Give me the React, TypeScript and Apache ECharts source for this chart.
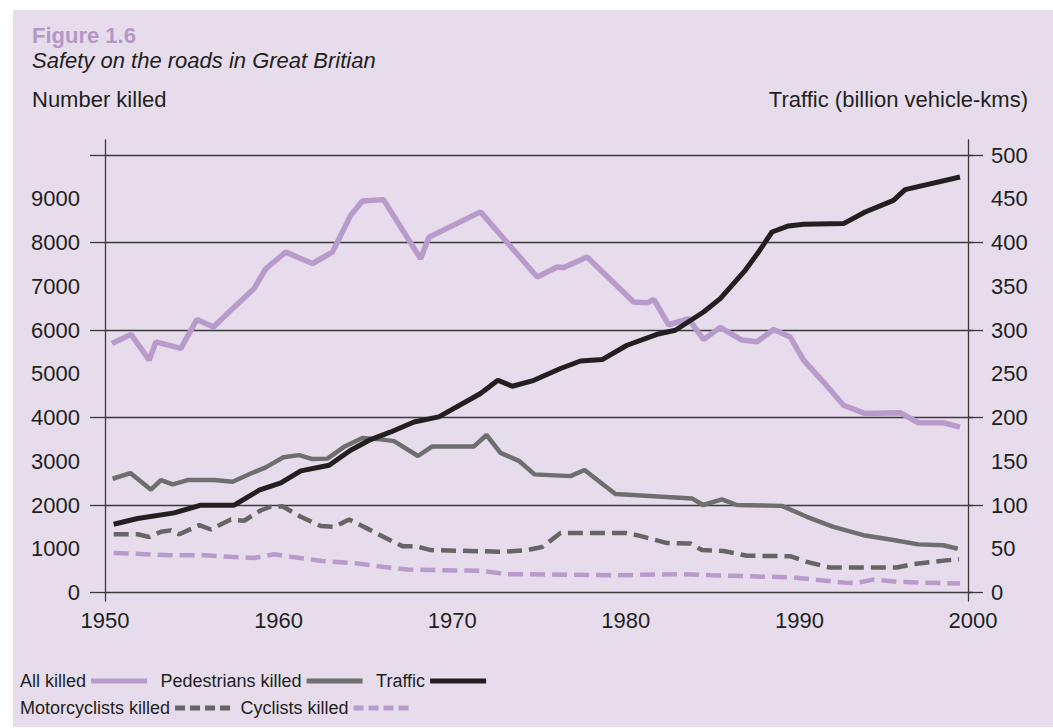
import React, { useEffect, useRef } from "react";
import * as echarts from "echarts";

// ---------- data ----------
const xTickYears = [1950, 1960, 1970, 1980, 1990, 2000];

const allKilledYears = [1950.4, 1951.5, 1952.55, 1952.93, 1954.37, 1955.29, 1956.25, 1957.25, 1958.59, 1959.26, 1960.41, 1961.95, 1963.1, 1964.15, 1964.83, 1966.04, 1968.18, 1968.66, 1971.63, 1974.9, 1976.05, 1976.43, 1977.77, 1980.45, 1981.23, 1981.61, 1982.47, 1983.62, 1984.48, 1985.44, 1986.69, 1987.55, 1988.51, 1989.47, 1990.24, 1991.39, 1992.54, 1993.79, 1995.8, 1996.85, 1998.29, 1999.25];
const allKilled = [5690, 5900, 5310, 5730, 5580, 6240, 6070, 6450, 6950, 7400, 7780, 7520, 7780, 8620, 8950, 8980, 7630, 8120, 8700, 7210, 7440, 7430, 7670, 6640, 6620, 6700, 6120, 6260, 5780, 6060, 5770, 5730, 6010, 5840, 5310, 4810, 4280, 4090, 4110, 3880, 3880, 3780];

const pedestriansYears = [1950.44, 1951.46, 1952.65, 1953.22, 1953.9, 1954.76, 1956.29, 1957.35, 1958.4, 1959.26, 1960.28, 1961.18, 1961.95, 1962.81, 1963.77, 1964.83, 1965.88, 1966.65, 1968.03, 1968.85, 1971.25, 1971.98, 1972.78, 1973.84, 1974.74, 1976.81, 1977.62, 1979.4, 1983.81, 1984.45, 1985.54, 1986.4, 1988.99, 1990.43, 1991.96, 1993.69, 1995.41, 1996.85, 1998.29, 1999.12];
const pedestrians = [2600, 2730, 2350, 2570, 2470, 2570, 2570, 2530, 2720, 2860, 3090, 3140, 3050, 3060, 3330, 3530, 3500, 3460, 3120, 3340, 3340, 3600, 3190, 3010, 2700, 2660, 2800, 2250, 2150, 2000, 2130, 2000, 1980, 1730, 1500, 1310, 1200, 1100, 1080, 1000];

const trafficYears = [1950.5, 1951.88, 1953.99, 1955.52, 1957.44, 1958.88, 1960.13, 1961.28, 1962.91, 1964.15, 1965.3, 1966.46, 1967.8, 1969.23, 1971.63, 1972.63, 1973.46, 1974.61, 1976.24, 1977.39, 1978.64, 1980.07, 1981.8, 1982.85, 1984.48, 1985.44, 1986.88, 1987.65, 1988.42, 1989.37, 1990.24, 1992.54, 1993.79, 1995.42, 1996.09, 1999.25];
const traffic = [78, 84.6, 91, 99.8, 99.8, 116.9, 125.2, 139, 145.5, 162.6, 174.8, 183.5, 194.9, 200.7, 227.4, 242.6, 235.7, 241.8, 256, 264.6, 266.2, 282.6, 295.1, 299.7, 320.6, 335.9, 368.2, 389.2, 412, 418.9, 420.8, 421.6, 434.9, 448.2, 460.5, 474.9];

const motorcyclistsYears = [1950.5, 1951.88, 1952.55, 1953.22, 1953.8, 1954.28, 1955.43, 1956.1, 1957.25, 1958.01, 1958.98, 1959.55, 1960.22, 1961.28, 1962.43, 1963.19, 1964.06, 1965.12, 1966.46, 1967.13, 1967.89, 1968.76, 1972.97, 1974.32, 1975.18, 1976.24, 1979.98, 1980.65, 1982.38, 1983.72, 1984.39, 1985.63, 1986.98, 1989.47, 1990.43, 1991.77, 1995.61, 1996.57, 1998.58, 1999.2];
const motorcyclists = [1330, 1330, 1270, 1390, 1420, 1330, 1540, 1440, 1670, 1640, 1880, 1960, 1970, 1730, 1520, 1500, 1670, 1460, 1190, 1060, 1060, 970, 930, 970, 1040, 1360, 1360, 1310, 1130, 1120, 970, 950, 840, 830, 700, 570, 570, 650, 740, 760];

const cyclistsYears = [1950.5, 1953.8, 1955.71, 1957.25, 1958.59, 1959.74, 1960.7, 1962.62, 1964.54, 1966.07, 1967.42, 1971.63, 1973.17, 1979.3, 1983.13, 1984.86, 1989.66, 1992.73, 1993.4, 1994.26, 1995.8, 1999.25];
const cyclists = [905, 850, 850, 815, 790, 875, 815, 715, 665, 585, 525, 495, 420, 395, 420, 395, 345, 220, 230, 295, 240, 205];

const legendRow1 = ["All killed", "Pedestrians killed", "Traffic"];
const legendRow2 = ["Motorcyclists killed", "Cyclists killed"];

// ---------- styles ----------
const FONT = "'Liberation Sans', Arial, Helvetica, sans-serif";
const TEXT = "#231f20";
const LAV = "#b99bcb";
const GREY = "#6e6e6e";
const DGREY = "#656565";
const BLACK = "#231f20";
const RULE = "#3a3a3a";
const BG = "#e6dcec";

const pair = (xs: number[], ys: number[]) => xs.map((x, i) => [x, ys[i]]);

export default function App() {
  const ref = useRef<HTMLDivElement>(null);
  useEffect(() => {
    const chart = echarts.init(ref.current!, null, { renderer: "svg" });
    const legendText = { fontFamily: FONT, fontSize: 18, color: TEXT };
    const option: any = {
      animation: false,
      backgroundColor: "#ffffff",
      graphic: [
        {
          type: "rect",
          z: -10,
          silent: true,
          shape: { x: 13, y: 10, width: 1040, height: 717 },
          style: { fill: BG },
        },
      ],
      title: [
        {
          text: "Figure 1.6",
          left: 27,
          top: 19,
          textStyle: { fontFamily: FONT, fontSize: 22, fontWeight: "bold", color: "#b597c7" },
        },
        {
          text: "Safety on the roads in Great Britian",
          left: 27,
          top: 44,
          textStyle: { fontFamily: FONT, fontSize: 22, fontStyle: "italic", fontWeight: "normal", color: TEXT },
        },
        {
          text: "Number killed",
          left: 27,
          top: 83,
          textStyle: { fontFamily: FONT, fontSize: 22, fontWeight: "normal", color: TEXT },
        },
        {
          text: "Traffic (billion vehicle-kms)",
          right: 20,
          top: 83,
          textStyle: { fontFamily: FONT, fontSize: 22, fontWeight: "normal", color: TEXT },
        },
      ],
      legend: [
        {
          data: legendRow1,
          left: 20,
          top: 672,
          orient: "horizontal",
          align: "right",
          itemWidth: 56,
          itemHeight: 14,
          itemGap: 11,
          padding: 0,
          itemStyle: { opacity: 0, borderWidth: 0 },
          lineStyle: { width: 5 },
          textStyle: legendText,
        },
        {
          data: legendRow2,
          left: 20,
          top: 699,
          orient: "horizontal",
          align: "right",
          itemWidth: 56,
          itemHeight: 14,
          itemGap: 7,
          padding: 0,
          itemStyle: { opacity: 0, borderWidth: 0 },
          lineStyle: { width: 5, type: [10, 5] },
          textStyle: legendText,
        },
      ],
      grid: [
        { left: 105, right: 80, top: 155, bottom: 135.5 },
        { left: 105, right: 85, top: 140, bottom: 127 },
      ],
      xAxis: [
        {
          type: "value",
          gridIndex: 0,
          min: 1950,
          max: 2000,
          interval: 10,
          axisLine: { show: false },
          axisTick: { show: false },
          splitLine: { show: false },
          axisLabel: {
            fontFamily: FONT,
            fontSize: 22,
            color: TEXT,
            margin: 17,
            formatter: (v: number) => (xTickYears.includes(v) ? String(v) : ""),
          },
        },
        { type: "value", gridIndex: 1, min: 0, max: 1, show: false },
      ],
      yAxis: [
        {
          // ticks + grid every 2000
          type: "value",
          gridIndex: 0,
          position: "left",
          min: 0,
          max: 10000,
          interval: 2000,
          axisLine: { show: false },
          axisTick: { show: true, length: 15, lineStyle: { color: RULE, width: 1.3 } },
          axisLabel: { show: false },
          splitLine: { show: true, lineStyle: { color: RULE, width: 1.3 } },
        },
        {
          // labels every 1000
          type: "value",
          gridIndex: 0,
          position: "left",
          min: 0,
          max: 10000,
          interval: 1000,
          axisLine: { show: false },
          axisTick: { show: false },
          splitLine: { show: false },
          axisLabel: {
            fontFamily: FONT,
            fontSize: 22,
            color: TEXT,
            margin: 25,
            showMaxLabel: false,
            formatter: (v: number) => String(v),
          },
        },
        {
          // right ticks every 100
          type: "value",
          gridIndex: 0,
          position: "right",
          offset: -5,
          min: 0,
          max: 500,
          interval: 100,
          axisLine: { show: false },
          axisTick: { show: true, length: 15, lineStyle: { color: RULE, width: 1.3 } },
          axisLabel: { show: false },
          splitLine: { show: false },
        },
        {
          // right labels every 50
          type: "value",
          gridIndex: 0,
          position: "right",
          offset: -5,
          min: 0,
          max: 500,
          interval: 50,
          axisLine: { show: false },
          axisTick: { show: false },
          splitLine: { show: false },
          axisLabel: { fontFamily: FONT, fontSize: 22, color: TEXT, margin: 23, formatter: (v: number) => String(v) },
        },
        {
          type: "value",
          gridIndex: 1,
          position: "left",
          min: 0,
          max: 1,
          axisLine: { show: true, lineStyle: { color: RULE, width: 1.3 } },
          axisTick: { show: false },
          axisLabel: { show: false },
          splitLine: { show: false },
        },
        {
          type: "value",
          gridIndex: 1,
          position: "right",
          min: 0,
          max: 1,
          axisLine: { show: true, lineStyle: { color: RULE, width: 1.3 } },
          axisTick: { show: false },
          axisLabel: { show: false },
          splitLine: { show: false },
        },
      ],
      series: [
        {
          name: "All killed",
          type: "line",
          xAxisIndex: 0,
          yAxisIndex: 0,
          data: pair(allKilledYears, allKilled),
          symbol: "none",
          lineStyle: { color: LAV, width: 5.5 },
          itemStyle: { color: LAV },
        },
        {
          name: "Pedestrians killed",
          type: "line",
          xAxisIndex: 0,
          yAxisIndex: 0,
          data: pair(pedestriansYears, pedestrians),
          symbol: "none",
          lineStyle: { color: GREY, width: 4.5 },
          itemStyle: { color: GREY },
        },
        {
          name: "Motorcyclists killed",
          type: "line",
          xAxisIndex: 0,
          yAxisIndex: 0,
          data: pair(motorcyclistsYears, motorcyclists),
          symbol: "none",
          lineStyle: { color: DGREY, width: 4.5, type: [15, 7] },
          itemStyle: { color: DGREY },
        },
        {
          name: "Cyclists killed",
          type: "line",
          xAxisIndex: 0,
          yAxisIndex: 0,
          data: pair(cyclistsYears, cyclists),
          symbol: "none",
          lineStyle: { color: LAV, width: 4.5, type: [15, 7] },
          itemStyle: { color: LAV },
        },
        {
          name: "Traffic",
          type: "line",
          xAxisIndex: 0,
          yAxisIndex: 2,
          data: pair(trafficYears, traffic),
          symbol: "none",
          lineStyle: { color: BLACK, width: 5 },
          itemStyle: { color: BLACK },
        },
      ],
    };
    chart.setOption(option);
    return () => chart.dispose();
  }, []);
  return (
    <div
      ref={ref}
      style={{ position: "fixed", left: 0, top: 0, width: 1053, height: 728, background: "#ffffff" }}
    />
  );
}
